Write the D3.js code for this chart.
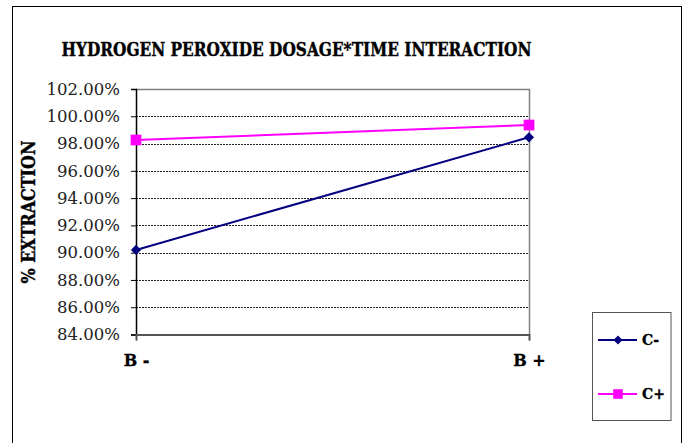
<!DOCTYPE html>
<html>
<head>
<meta charset="utf-8">
<script src="https://cdn.jsdelivr.net/npm/d3@7"></script>
<style>
  html, body { margin: 0; padding: 0; background: #fff; }
  svg { display: block; }
</style>
</head>
<body>
<svg id="chart" width="683" height="443"></svg>
<script>
// Hydrogen peroxide dosage (B) x time (C) interaction, % extraction
const categories = ["B -", "B +"];
const seriesNames = ["C-", "C+"];
const cMinus = [0.9020, 0.9846];
const cPlus = [0.9826, 0.9936];
const yTicks = [0.84, 0.86, 0.88, 0.90, 0.92, 0.94, 0.96, 0.98, 1.00, 1.02];

const svg = d3.select("#chart");
const serif = "'DejaVu Serif', 'Liberation Serif', serif";

// outer chart frame
svg.append("rect")
  .attr("x", 12.5).attr("y", 6.5)
  .attr("width", 669).attr("height", 520)
  .attr("fill", "#fff").attr("stroke", "#000").attr("stroke-width", 1);

const plot = { left: 136, right: 529, top: 89, bottom: 334.5 };

const x = d3.scalePoint().domain(categories).range([plot.left, plot.right]).padding(0);
const y = d3.scaleLinear().domain([0.84, 1.02]).range([plot.bottom, plot.top]);

// title
svg.append("text")
  .attr("x", 61.5).attr("y", 55.5)
  .attr("textLength", 470).attr("lengthAdjust", "spacingAndGlyphs")
  .style("font-family", serif).style("font-weight", "bold").style("font-size", "18px")
  .attr("fill", "#000").attr("stroke", "#000").attr("stroke-width", 0.4)
  .text("HYDROGEN PEROXIDE DOSAGE*TIME INTERACTION");

// gridlines
svg.append("g")
  .selectAll("line")
  .data(yTicks.filter(t => t > 0.84 + 1e-9 && t < 1.02 - 1e-9))
  .join("line")
  .attr("x1", plot.left).attr("x2", plot.right)
  .attr("y1", d => Math.round(y(d)) + 0.5).attr("y2", d => Math.round(y(d)) + 0.5)
  .attr("stroke", "#222").attr("stroke-width", 1).attr("stroke-dasharray", "2,1");

// plot area border (top and right)
svg.append("path")
  .attr("d", `M${plot.left},${plot.top + 0.5}H${plot.right + 0.5}V${plot.bottom}`)
  .attr("fill", "none").attr("stroke", "#808080").attr("stroke-width", 1.5);

// y axis
const yAxis = d3.axisLeft(y).tickValues(yTicks).tickSize(5).tickPadding(11)
  .tickFormat(d3.format(".2%"));
const gy = svg.append("g").attr("transform", `translate(${plot.left},0)`).call(yAxis);
gy.select(".domain").attr("stroke", "#000").attr("stroke-width", 1.5);
gy.selectAll(".tick line").attr("stroke", "#000");
gy.selectAll(".tick text")
  .style("font-family", serif).style("font-size", "16.5px").attr("fill", "#222");

// x axis
const xAxis = d3.axisBottom(x).tickSize(6).tickPadding(14);
const gx = svg.append("g").attr("transform", `translate(0,${plot.bottom})`).call(xAxis);
gx.select(".domain").attr("stroke", "#555").attr("stroke-width", 2);
gx.selectAll(".tick line").attr("stroke", "#555");
gx.selectAll(".tick text")
  .style("font-family", serif).style("font-size", "16px").style("font-weight", "bold")
  .attr("fill", "#000").attr("stroke", "#000").attr("stroke-width", 0.3);

// y axis title
svg.append("text")
  .attr("transform", "translate(35,212) rotate(-90)")
  .attr("text-anchor", "middle")
  .style("font-family", serif).style("font-weight", "bold").style("font-size", "18px")
  .attr("fill", "#000").attr("stroke", "#000").attr("stroke-width", 0.4)
  .attr("textLength", 143).attr("lengthAdjust", "spacingAndGlyphs")
  .text("% EXTRACTION");

const series = [
  { name: seriesNames[0], values: cMinus, color: "#000080", rotate: 45, size: 52 },
  { name: seriesNames[1], values: cPlus, color: "#FF00FF", rotate: 0, size: 115 }
];

const line = d3.line().x((d, i) => x(categories[i])).y(d => y(d));

series.forEach(s => {
  svg.append("path")
    .datum(s.values)
    .attr("d", line)
    .attr("fill", "none").attr("stroke", s.color).attr("stroke-width", 2);
  svg.append("g").selectAll("path")
    .data(s.values)
    .join("path")
    .attr("transform", (d, i) => `translate(${x(categories[i])},${y(d)}) rotate(${s.rotate})`)
    .attr("d", d3.symbol().type(d3.symbolSquare).size(s.size))
    .attr("fill", s.color);
});

// legend
const legend = svg.append("g");
legend.append("rect")
  .attr("x", 592.5).attr("y", 312.5).attr("width", 78.5).attr("height", 108)
  .attr("fill", "#fff").attr("stroke", "#555").attr("stroke-width", 1);
const legendRows = [340, 394];
series.forEach((s, i) => {
  const ly = legendRows[i];
  legend.append("line")
    .attr("x1", 598).attr("x2", 637).attr("y1", ly).attr("y2", ly)
    .attr("stroke", s.color).attr("stroke-width", 2);
  legend.append("path")
    .attr("transform", `translate(618,${ly}) rotate(${s.rotate})`)
    .attr("d", d3.symbol().type(d3.symbolSquare).size(s.size * 0.8))
    .attr("fill", s.color);
  legend.append("text")
    .attr("x", 642).attr("y", ly + 5)
    .style("font-family", serif).style("font-weight", "bold").style("font-size", "14px")
    .attr("fill", "#000").attr("stroke", "#000").attr("stroke-width", 0.3)
    .text(s.name);
});
</script>
</body>
</html>
